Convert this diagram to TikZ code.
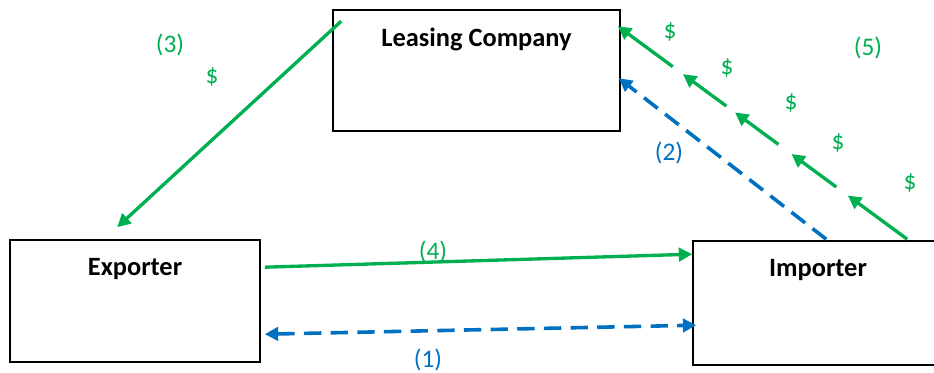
\documentclass[tikz,border=0pt]{standalone}
\usepackage{fontspec}
\setmainfont{Carlito}
\usetikzlibrary{calc,arrows.meta}
\definecolor{cgreen}{HTML}{00B050}
\definecolor{cblue}{HTML}{0070C0}

\begin{document}
\begin{tikzpicture}[x=0.75pt,y=-0.75pt,>={Triangle[length=10pt,width=10pt]},
  every node/.style={font=\fontsize{19}{22}\selectfont},
  box/.style={draw,line width=1.2pt,inner sep=0pt},
  title/.style={font=\fontsize{19.8}{23}\selectfont\bfseries,anchor=center,yshift=-22.5pt},
  money/.style={->,cgreen,line width=2.5pt},
  paper/.style={->,cblue,line width=2.7pt,dash pattern=on 13pt off 7pt},
  gtxt/.style={text=cgreen},btxt/.style={text=cblue}]
\clip (0,0) rectangle (934,373);
\node[box,minimum width=215.25pt,minimum height=90.75pt,label={[title]north:Leasing Company}] (lease) at (476.5,70.5) {};
\node[box,minimum width=187.5pt,minimum height=91.5pt,label={[title]north:Exporter}] (exp) at (135,301) {};
\node[box,minimum width=187.5pt,minimum height=93pt,label={[title]north:Importer}] (imp) at (818,303) {};

\coordinate (s3) at ($(lease.north west)+(9,12)$);
\coordinate (e3) at ($(exp.north west)+(108,-12)$);
\coordinate (s4) at ($(exp.north east)+(4,28)$);
\coordinate (e4) at ($(imp.north west)+(0,14)$);
\coordinate (s1) at ($(exp.north east)+(4,95)$);
\coordinate (e1) at ($(imp.north west)+(4,85)$);
\coordinate (s2) at ($(imp.north west)+(134,-1)$);
\coordinate (e2) at ($(lease.north east)+(-2,69)$);
\coordinate (s5) at ($(imp.north west)+(215,-1)$);
\coordinate (e5) at ($(lease.north east)+(-3,17)$);

\draw[money] (s3) -- (e3);
\draw[money] (s4) -- (e4);
\draw[paper,<->] (s1) -- (e1);
\draw[paper] (s2) -- (e2);
\foreach \a/\b in {0/0.205,0.245/0.40,0.445/0.595,0.625/0.775,0.81/1}
  \draw[money] ($(s5)!\a!(e5)$) -- ($(s5)!\b!(e5)$);

\node[gtxt] (n3) at (170,45) {(3)};
\node[gtxt] (d3) at (212,77) {\$};
\node[gtxt] (n4) at (433,252) {(4)};
\node[btxt] (n1) at (428,360) {(1)};
\node[btxt] (n2) at (669,153) {(2)};
\node[gtxt] (n5) at (868,48) {(5)};
\foreach \x/\y [count=\i] in {670/32,727/68,791/103,838/143,910/183}
  \node[gtxt] (d5\i) at (\x,\y) {\$};
\end{tikzpicture}
\end{document}
